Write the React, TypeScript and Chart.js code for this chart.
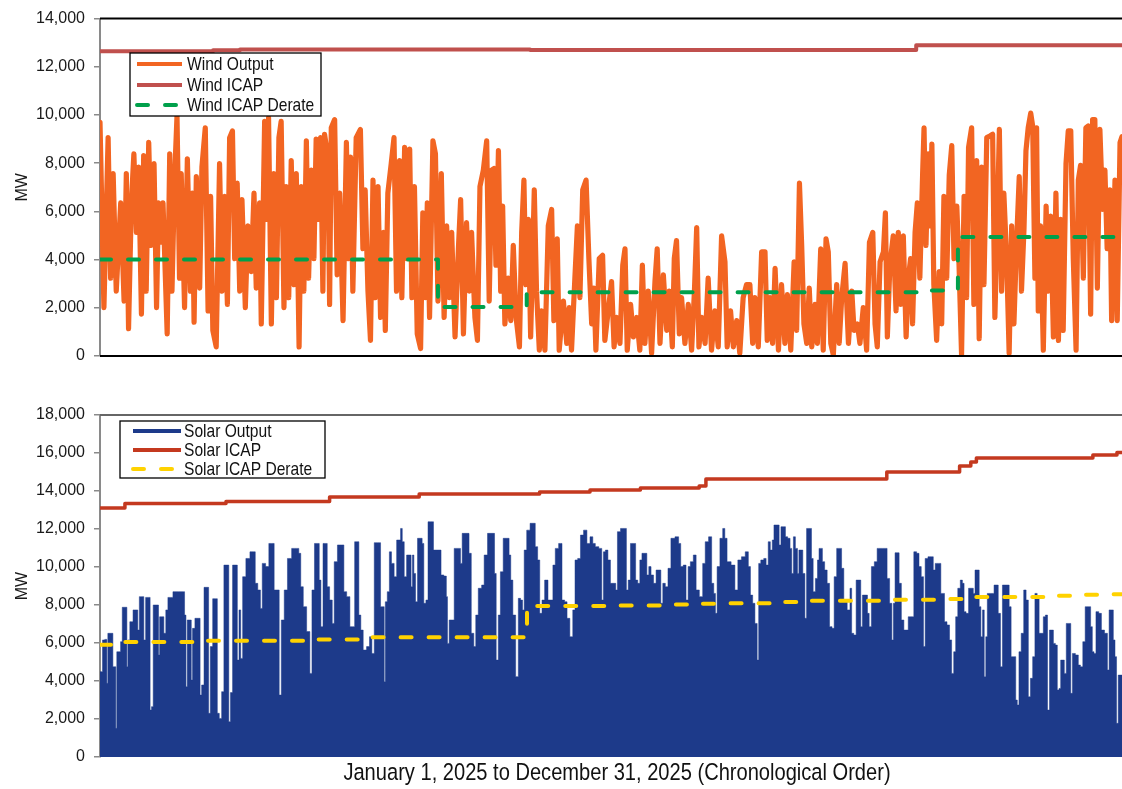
import React, { useEffect, useRef } from 'react';
import { Chart, registerables } from 'chart.js';

Chart.register(...registerables);

// ---------- Data (x = day of year 0..365, y = MW) ----------
const xTitle = 'January 1, 2025 to December 31, 2025 (Chronological Order)';
const windTicks = [0, 2000, 4000, 6000, 8000, 10000, 12000, 14000];
const solarTicks = [0, 2000, 4000, 6000, 8000, 10000, 12000, 14000, 16000, 18000];

const windOutput: [number, number][] = [
  [0,9700],[1.4,2010],[2.9,9060],[3.8,3230],[4.7,7570],[5.8,2690],[7.4,6350],[8.6,2280],[9.4,7570],[10.2,1130],
  [11.2,6350],[12.1,8390],[13.0,5130],[13.8,7840],[14.8,1740],[15.6,8320],[16.5,2690],[17.4,8860],[18.3,4590],[19.3,7980],
  [20.2,2010],[20.9,6350],[21.7,4720],[22.5,6350],[24.0,920],[24.9,8390],[25.7,2690],[26.7,7570],[27.5,9950],[28.4,3230],
  [29.0,7570],[30.2,2010],[31.2,8180],[32.3,2690],[33.0,6760],[33.6,1400],[34.4,7440],[35.6,2820],[36.4,7840],[37.6,9470],
  [38.6,1870],[39.5,6620],[40.3,1060],[41.5,380],[42.7,7980],[43.6,2690],[44.5,6620],[45.5,2140],[46.3,9060],[47.3,9340],
  [48.1,4040],[49.0,7170],[49.9,2690],[50.7,6490],[51.9,2010],[52.8,5400],[54.0,3500],[55.0,6760],[55.8,2820],[57.0,6350],
  [57.6,1330],[58.8,9740],[59.8,5670],[60.2,9880],[61.2,1330],[62.1,7570],[63.0,2420],[63.9,9060],[64.7,9740],[65.7,2010],
  [66.5,7030],[67.4,2420],[68.3,8110],[69.3,2960],[70.1,7570],[71.1,380],[71.9,7030],[72.8,2690],[73.7,8930],[74.5,3230],
  [75.5,7710],[76.4,4040],[77.2,9000],[78.1,5670],[78.8,9060],[79.6,2690],[80.2,9200],[81.4,8250],[82.0,2140],[82.6,9470],
  [83.8,9810],[84.7,3370],[85.6,6760],[86.8,1470],[88.0,8860],[88.8,4040],[89.5,8250],[90.3,2690],[91.5,9060],[93.0,9400],
  [93.9,4450],[94.7,6890],[95.7,2690],[96.6,650],[97.5,7300],[98.3,2420],[99.3,7030],[100.2,1600],[101.2,5130],[101.9,1060],
  [102.8,6760],[104.0,7980],[105.0,9060],[105.9,2690],[107.0,8110],[107.8,2420],[108.8,8660],[109.7,4040],[110.6,8590],[111.4,2420],
  [112.3,7030],[113.3,920],[114.5,310],[115.3,5940],[116.2,2420],[116.9,6350],[117.7,1600],[118.9,8930],[119.8,8390],[120.7,2280],
  [121.9,7570],[122.9,1600],[123.8,5400],[124.8,2420],[125.6,5130],[126.8,790],[128.0,4450],[128.8,6490],[129.8,920],[130.9,5540],
  [131.9,2690],[132.7,5130],[133.9,1600],[134.8,650],[135.7,7030],[136.9,7710],[138.1,8930],[139.0,2280],[139.9,7710],[140.7,7780],
  [141.4,3770],[142.3,8520],[143.1,2690],[143.8,6220],[144.6,1330],[145.8,3230],[146.7,1470],[147.6,4590],[148.6,1600],[149.8,380],
  [150.6,5130],[151.4,7300],[152.1,2960],[153.0,5670],[153.8,790],[155.1,6890],[155.9,2690],[156.9,240],[157.7,1870],[158.9,240],
  [160.1,5400],[161.3,6080],[162.1,1470],[163.3,4860],[164.0,240],[165.5,2280],[166.7,520],[167.6,2010],[168.4,240],[169.6,3230],
  [170.5,5400],[171.4,2420],[172.4,6890],[173.6,7300],[174.6,4040],[175.6,1330],[176.4,2820],[177.1,240],[178.3,4040],[179.5,4180],
  [180.3,650],[181.5,1870],[182.7,3090],[183.6,380],[184.5,1600],[185.7,520],[186.7,3770],[187.5,4450],[188.3,240],[189.5,2140],
  [190.5,790],[191.7,1600],[192.8,240],[193.7,3770],[194.6,520],[195.8,2690],[197.0,110],[198.2,3090],[199.0,4450],[200.0,520],
  [201.2,3370],[202.4,1060],[203.3,2690],[204.4,380],[205.1,4040],[205.9,4790],[206.9,920],[207.7,2420],[208.9,520],[210.1,2140],
  [211.3,240],[212.3,2690],[213.1,5330],[213.9,380],[214.9,1600],[216.1,520],[217.2,3230],[218.4,240],[219.6,1870],[220.8,380],
  [222.0,4990],[223.2,3910],[224.0,380],[225.2,1870],[226.2,380],[227.4,1470],[228.5,110],[229.7,2420],[230.9,2960],[232.1,2960],
  [233.1,520],[233.9,2420],[235.1,380],[236.3,4320],[237.5,4320],[238.3,650],[239.3,2420],[240.2,520],[241.1,3640],[242.3,240],
  [243.4,2960],[244.6,520],[245.5,2550],[246.7,240],[247.9,3910],[248.8,1060],[249.8,7170],[250.6,4590],[251.4,1330],[252.4,520],
  [253.3,2820],[254.2,380],[255.4,2140],[256.2,520],[257.4,4450],[258.3,240],[259.3,4860],[260.1,4320],[261.0,520],[261.9,40],
  [263.1,2960],[264.0,520],[264.9,2420],[266.1,3840],[267.3,520],[268.5,2690],[269.3,1060],[270.5,1330],[271.4,520],[272.6,2010],
  [273.8,240],[274.8,4720],[276.0,5130],[276.8,1330],[277.6,380],[278.6,3910],[279.8,4320],[280.5,5940],[281.2,790],[282.1,3770],
  [283.3,4990],[284.3,1870],[285.1,5130],[286.0,2140],[286.9,4990],[287.9,790],[288.7,3230],[289.5,4040],[290.2,1330],[291.1,5130],
  [291.9,6350],[292.8,3230],[293.8,7570],[294.3,9470],[295.0,4590],[295.8,8390],[296.4,5400],[297.1,8790],[297.8,2960],[298.8,650],
  [299.7,3500],[300.6,1330],[301.4,6620],[302.4,3230],[303.3,7500],[304.2,8730],[305.0,4040],[306.0,6220],[306.8,3770],[307.7,40],
  [308.6,6620],[309.5,2420],[310.2,8660],[311.3,9470],[312.1,2140],[313.1,8110],[314.0,720],[314.9,7840],[315.7,2960],[316.7,9060],
  [317.8,9130],[318.8,9200],[319.6,1600],[320.5,5670],[321.2,9400],[322.0,2690],[322.8,6760],[323.8,4040],[324.7,110],[325.6,5400],
  [326.4,1330],[327.4,4860],[328.3,7440],[329.1,2690],[330.0,5270],[330.7,8520],[331.5,9470],[332.4,10080],[333.1,9540],[333.9,3230],
  [334.5,9470],[335.1,1870],[335.9,5400],[336.9,240],[337.9,6220],[338.7,2690],[339.5,5810],[340.5,790],[341.4,6760],[342.3,650],
  [343.1,5670],[344.0,1060],[345.0,7980],[345.8,9340],[346.7,9340],[347.6,4040],[348.6,240],[349.4,7300],[350.2,7910],[351.2,3230],
  [352.1,9470],[352.9,9540],[353.8,1740],[354.5,9810],[355.3,9810],[356.2,2820],[357.1,9400],[358.1,6080],[358.9,7710],[359.7,4450],
  [360.7,6890],[361.3,1470],[362.5,7300],[363.3,1470],[364.3,8860],[365,9100]
];

const windIcap: [number, number][] = [[0,12650],[40.4,12690],[50,12720],[153.6,12700],[291.5,12890],[365,12890]];
const windDerate: [number, number][] = [[0,4000],[120.7,2030],[152.4,2650],[295.2,2720],[306.4,4940],[365,4940]];

const solarOutput: [number, number][] = [
  [0,4490],[0.7,4490],[1.1,6160],[2.3,6190],[2.6,3880],[3.0,6510],[4.3,6510],[4.9,4750],[5.5,4750],[5.8,1510],
  [6.2,5540],[7.1,5540],[7.6,6070],[8.3,7880],[9.4,7880],[9.8,4750],[10.1,6160],[11.2,7120],[12.4,7740],[13.3,7740],
  [13.7,6680],[14.4,8440],[15.4,8440],[15.9,6160],[16.7,8400],[17.7,8400],[18.1,2470],[18.7,2650],[19.3,8000],[20.7,8000],
  [21.1,5370],[21.5,7380],[22.5,7380],[23.1,6510],[23.9,7740],[24.6,8400],[25.7,8400],[26.4,8700],[29.9,8700],[30.5,7470],
  [30.9,3700],[31.4,7210],[32.4,7210],[32.8,4050],[33.3,6770],[34.5,7300],[35.6,7300],[35.9,3260],[36.7,3790],[37.6,8930],
  [38.6,8930],[39.0,2300],[39.8,5810],[40.7,8330],[41.7,8330],[42.1,2300],[43.1,2030],[43.8,3440],[44.7,10100],[45.7,10100],
  [46.3,1860],[46.9,3390],[47.8,10100],[48.8,10100],[49.3,5100],[50.0,7740],[50.5,5190],[51.4,9490],[52.8,10450],[54.3,10800],
  [55.2,10800],[55.7,9140],[57.0,8790],[57.6,7820],[58.3,10190],[60.0,10020],[60.6,11240],[61.8,11240],[62.6,8790],[63.6,8790],
  [64.4,3260],[65.1,7210],[66.5,8790],[67.4,10450],[69.5,10980],[70.7,10980],[71.3,10720],[72.1,8960],[73.1,7910],[74.5,6600],
  [75.4,4400],[76.0,8790],[77.2,11240],[78.1,11240],[78.5,9310],[79.3,6860],[80.0,11240],[80.9,11240],[81.4,8960],[82.6,8260],
  [83.3,7030],[84.0,10280],[85.6,11160],[86.8,11160],[87.4,8700],[88.8,8440],[89.7,6860],[90.7,6860],[91.2,11330],[92.1,11330],
  [92.8,7470],[93.5,6680],[94.5,5630],[95.9,5810],[96.6,6330],[97.6,5450],[98.3,11280],[99.9,11280],[100.5,7910],[101.3,7910],
  [101.7,3960],[102.1,8170],[103.1,8700],[103.6,10800],[104.6,10190],[105.5,9490],[106.4,11420],[107.1,11420],[107.6,12030],[108.3,11330],
  [109.0,9490],[110.0,10630],[110.8,10630],[111.4,8960],[111.8,10630],[112.4,9660],[113.0,8170],[113.8,11510],[114.8,11510],[115.3,11240],
  [116.0,8090],[116.8,8260],[117.5,12380],[118.7,12380],[119.5,10890],[121.6,10890],[122.0,9580],[123.6,9520],[123.8,8440],[124.4,5980],
  [125.0,7210],[125.9,7210],[127.1,10980],[128.6,10980],[128.9,10190],[129.8,11770],[131.5,11770],[132.1,10720],[133.1,6510],[133.9,5810],
  [134.5,7470],[135.7,8880],[136.9,9050],[137.5,10630],[139.3,11770],[140.7,11770],[141.1,9660],[141.9,5100],[142.6,7470],[143.4,9750],
  [144.6,11510],[145.8,11510],[146.4,10630],[147.0,9310],[147.9,7470],[149.0,4230],[149.8,8350],[150.6,8260],[151.2,7740],[151.8,10890],
  [153.0,11940],[154.2,12300],[155.0,12300],[155.9,11070],[156.7,10370],[157.4,7560],[158.3,8260],[159.3,9310],[159.7,9310],[160.3,8260],
  [161.4,8260],[162.1,10100],[163.1,10980],[164.5,11240],[165.5,8260],[166.4,8170],[167.2,7300],[168.4,6330],[169.3,7740],[170.0,10370],
  [171.2,10450],[172.0,11680],[173.4,11940],[174.4,11240],[175.6,11590],[176.4,11240],[177.4,11070],[178.9,10980],[179.5,8260],[180.1,10800],
  [180.9,10890],[181.9,10370],[182.7,9140],[183.9,9140],[184.5,8790],[185.1,11860],[186.7,12030],[187.7,12030],[188.3,8790],[189.0,9310],
  [189.9,11240],[191.0,11240],[191.6,9310],[192.5,9140],[193.1,10370],[194.0,10720],[195.0,10720],[195.6,9580],[196.4,10020],[197.2,9580],
  [198.2,9140],[199.0,9840],[200.0,9840],[200.6,8090],[201.4,9140],[202.4,8960],[203.3,9930],[204.5,11510],[206.2,11590],[207.1,11240],
  [207.7,10020],[208.9,10100],[209.7,8260],[210.4,10020],[211.3,10280],[212.5,10630],[213.3,8790],[214.8,8440],[215.7,10190],[216.6,11330],
  [218.1,11590],[218.8,9140],[219.6,8610],[220.0,7560],[220.8,10020],[222.0,11510],[222.8,12030],[223.5,11510],[224.4,10280],[226.4,10100],
  [227.1,8790],[228.5,10370],[229.7,10540],[231.2,10800],[231.9,10020],[232.7,8520],[233.5,8090],[234.3,7030],[235.1,5100],[235.4,10190],
  [236.6,10370],[237.5,10450],[238.3,10100],[239.0,11330],[239.8,10890],[240.4,11420],[241.0,12210],[242.2,12210],[242.9,11160],[243.5,12120],
  [244.6,12120],[245.0,11590],[246.2,11510],[246.7,10980],[247.4,9660],[247.9,11590],[248.8,10980],[249.4,9660],[249.8,10890],[250.6,10890],
  [251.4,9660],[252.1,7300],[252.6,12030],[253.8,12030],[254.4,10450],[255.0,8700],[256.0,9400],[256.5,10370],[257.1,10980],[257.7,10980],
  [258.3,10280],[259.3,9840],[260.1,9140],[261.0,6860],[261.9,6770],[262.5,9490],[263.7,10980],[264.5,10980],[265.2,9930],[266.1,8260],
  [267.6,7740],[268.1,8880],[268.8,6510],[269.6,6420],[270.5,9310],[271.4,9310],[272.0,6860],[272.6,8520],[273.8,8520],[274.4,7560],
  [275.0,6860],[276.0,10020],[277.1,10280],[278.0,10980],[280.7,10980],[281.5,9400],[282.5,8090],[283.1,6160],[283.6,8090],[284.3,10750],
  [285.1,10750],[285.7,9140],[286.7,7210],[287.5,6680],[288.3,6680],[289.0,7380],[290.2,7380],[291.1,10800],[292.2,10720],[292.8,10020],
  [293.8,9490],[294.4,5810],[295.0,10450],[296.4,10540],[297.4,10540],[297.8,9840],[298.8,10190],[300.0,10190],[300.6,8610],[301.2,8610],
  [302.0,7120],[303.0,6950],[303.8,6160],[304.5,4400],[305.3,5540],[305.9,7380],[306.8,8880],[307.7,9310],[308.3,9140],[308.9,7650],
  [309.7,7560],[310.7,8880],[311.6,8880],[312.2,8610],[312.8,9840],[313.7,9840],[314.3,7910],[314.9,6330],[315.5,7740],[316.1,4230],
  [316.6,6330],[317.2,8610],[319.0,8610],[319.6,9050],[320.4,9050],[321.2,7560],[322.0,4750],[322.6,9050],[324.4,9050],[325.0,7910],
  [325.8,5280],[326.8,5280],[327.3,3000],[327.9,2740],[328.5,5540],[329.5,6510],[330.3,8790],[331.2,8260],[331.9,3170],[332.7,4140],
  [333.5,5280],[334.3,8610],[335.1,8350],[335.7,6510],[336.6,6510],[337.2,7380],[338.1,7470],[338.7,2470],[339.5,6680],[340.2,6680],
  [340.8,5980],[341.6,5890],[342.2,3530],[342.8,3610],[343.4,5100],[344.0,5100],[344.8,4400],[345.4,7030],[346.4,7030],[347.0,3350],
  [347.6,5450],[349.1,5370],[349.7,4840],[350.6,4750],[351.4,6070],[352.3,7910],[353.5,7910],[354.1,6860],[354.7,5540],[355.3,5450],
  [356.1,7650],[357.3,7560],[358.0,6680],[359.5,6510],[360.1,4580],[360.7,7740],[361.6,7740],[362.2,6160],[362.8,5280],[363.3,1770],
  [364.0,4310],[365,4310]
];

const solarIcap: [number, number][] = [
  [0,13100],[8.9,13340],[45,13450],[82,13680],[114,13840],[157,13950],[175,14050],[193,14160],[214,14260],[216.4,14630],
  [281,15000],[307,15320],[311,15530],[313,15740],[354.6,15900],[363.2,16020],[365,16020]
];
const solarDerate: [number, number][] = [
  [0,5910],[6.8,6050],[35.7,6120],[75.7,6190],[94.6,6300],[152.5,7950],[183.6,7980],[202.9,8020],[212.9,8070],[222.1,8090],
  [242.9,8160],[251.8,8230],[281.4,8280],[301.4,8310],[310.7,8420],[339.3,8490],[350,8540],[357.1,8560],[365,8560]
];

// ---------- Styling ----------
const SANS = "'Liberation Sans', Arial, Helvetica, sans-serif";
const ORANGE = '#F26522';
const WIND_ICAP = '#C0504D';
const GREEN = '#00A04B';
const BLUE = '#1D3A8A';
const SOLAR_ICAP = '#C4391F';
const YELLOW = '#FFD200';
const NARROW_SCALE = 0.82;

const toPts = (arr: [number, number][]) => arr.map(([x, y]) => ({ x, y }));

function narrowText(ctx: any, text: string, x: number, y: number, size: number, align: string) {
  ctx.save();
  ctx.font = `${size}px ${SANS}`;
  ctx.textBaseline = 'middle';
  ctx.textAlign = align;
  ctx.translate(x, y);
  ctx.scale(NARROW_SCALE, 1);
  ctx.fillText(text, 0, 0);
  ctx.restore();
}

const framePlugin = {
  id: 'frame',
  afterDatasetsDraw(chart: any, _args: any, opts: any) {
    const { ctx, chartArea } = chart;
    const lines = (opts && opts.lines) || [];
    ctx.save();
    for (const l of lines) {
      const y = l.edge === 'top' ? chartArea.top : chartArea.bottom;
      ctx.strokeStyle = l.color;
      ctx.lineWidth = l.width;
      ctx.beginPath();
      ctx.moveTo(chartArea.left, y);
      ctx.lineTo(chartArea.right, y);
      ctx.stroke();
    }
    ctx.restore();
  },
};

const boxLegendPlugin = {
  id: 'boxLegend',
  afterDraw(chart: any, _args: any, opts: any) {
    if (!opts || !opts.box) return;
    const { ctx } = chart;
    const [bx, by, bw, bh] = opts.box;
    ctx.save();
    ctx.fillStyle = '#ffffff';
    ctx.fillRect(bx, by, bw, bh);
    ctx.strokeStyle = '#000000';
    ctx.lineWidth = 1.3;
    ctx.strokeRect(bx, by, bw, bh);
    const order: number[] = opts.order;
    order.forEach((dsIndex: number, i: number) => {
      const ds = chart.data.datasets[dsIndex];
      const y = opts.rows[i];
      ctx.strokeStyle = ds.borderColor;
      ctx.lineWidth = 4;
      ctx.lineCap = ds.borderDash ? 'round' : 'butt';
      ctx.setLineDash(ds.borderDash || []);
      ctx.beginPath();
      ctx.moveTo(opts.line[0], y);
      ctx.lineTo(opts.line[1], y);
      ctx.stroke();
      ctx.setLineDash([]);
      ctx.fillStyle = '#111111';
      narrowText(ctx, ds.label, opts.textX, y + 1, opts.fontSize, 'left');
    });
    ctx.restore();
  },
};

const axisTitlePlugin = {
  id: 'narrowAxisTitle',
  afterDraw(chart: any, _args: any, opts: any) {
    if (!opts || !opts.text) return;
    const { ctx, chartArea } = chart;
    ctx.save();
    ctx.fillStyle = '#111111';
    narrowText(ctx, opts.text, (chartArea.left + chartArea.right) / 2 + opts.shift, chartArea.bottom + opts.gap, opts.fontSize, 'center');
    ctx.restore();
  },
};

function yScale(ticks: number[], max: number) {
  return {
    type: 'linear',
    min: 0,
    max,
    afterFit: (s: any) => { s.width = 100; },
    afterBuildTicks: (s: any) => { s.ticks = ticks.map((v) => ({ value: v })); },
    ticks: {
      font: { family: SANS, size: 16 },
      color: '#1a1a1a',
      padding: 9,
      callback: (v: any) => Number(v).toLocaleString('en-US'),
    },
    grid: { display: true, drawOnChartArea: false, drawTicks: true, tickLength: 6, color: '#8a8a8a', lineWidth: 1.5 },
    border: { display: true, color: '#8a8a8a', width: 2 },
    title: { display: true, text: 'MW', font: { family: SANS, size: 16 }, color: '#1a1a1a', padding: { top: 13, bottom: 0 } },
  };
}

const lineBase = { pointRadius: 0, pointHoverRadius: 0, tension: 0, borderJoinStyle: 'round', borderCapStyle: 'round' };

function topConfig(): any {
  return {
    type: 'line',
    data: {
      datasets: [
        { ...lineBase, label: 'Wind Output', data: toPts(windOutput), borderColor: ORANGE, borderWidth: 5.2, order: 3 },
        { ...lineBase, label: 'Wind ICAP', data: toPts(windIcap), borderColor: WIND_ICAP, borderWidth: 4, stepped: 'before', order: 2 },
        { ...lineBase, label: 'Wind ICAP Derate', data: toPts(windDerate), borderColor: GREEN, borderWidth: 4, borderDash: [11, 17], stepped: 'before', order: 1 },
      ],
    },
    options: {
      responsive: false,
      animation: false,
      events: [],
      parsing: false,
      layout: { padding: { left: 0, right: 0, top: 12, bottom: 34 } },
      scales: {
        x: { type: 'linear', min: 0, max: 365, display: false },
        y: yScale(windTicks, 14000),
      },
      plugins: {
        legend: { display: false },
        tooltip: { enabled: false },
        frame: { lines: [{ edge: 'top', color: '#000', width: 2 }, { edge: 'bottom', color: '#000', width: 2 }] },
        boxLegend: { box: [130, 53, 191, 63], rows: [64, 85, 105], line: [137, 182], textX: 187, fontSize: 19, order: [0, 1, 2] },
      },
    },
    plugins: [framePlugin, boxLegendPlugin],
  };
}

function bottomConfig(): any {
  return {
    type: 'line',
    data: {
      datasets: [
        { ...lineBase, label: 'Solar Output', data: toPts(solarOutput), borderColor: BLUE, backgroundColor: BLUE, borderWidth: 0.5, fill: 'origin', stepped: 'middle', order: 3 },
        { ...lineBase, label: 'Solar ICAP', data: toPts(solarIcap), borderColor: SOLAR_ICAP, borderWidth: 3.5, stepped: 'before', order: 2 },
        { ...lineBase, label: 'Solar ICAP Derate', data: toPts(solarDerate), borderColor: YELLOW, borderWidth: 4, borderDash: [11, 17], stepped: 'before', order: 1 },
      ],
    },
    options: {
      responsive: false,
      animation: false,
      events: [],
      parsing: false,
      layout: { padding: { left: 0, right: 0, top: 25, bottom: 0 } },
      scales: {
        x: {
          type: 'linear', min: 0, max: 365, display: true,
          afterFit: (s: any) => { s.height = 32; },
          ticks: { display: false },
          grid: { display: false },
          border: { display: false },
          title: { display: false, text: xTitle },
        },
        y: yScale(solarTicks, 18000),
      },
      plugins: {
        legend: { display: false },
        tooltip: { enabled: false },
        frame: { lines: [{ edge: 'top', color: '#666', width: 2 }] },
        boxLegend: { box: [120, 31, 205, 57], rows: [41, 60, 79], line: [133, 181], textX: 184, fontSize: 19, order: [0, 1, 2] },
        narrowAxisTitle: { text: xTitle, fontSize: 24.5, shift: 6, gap: 16 },
      },
    },
    plugins: [framePlugin, boxLegendPlugin, axisTitlePlugin],
  };
}

export default function App() {
  const topRef = useRef<HTMLCanvasElement>(null);
  const botRef = useRef<HTMLCanvasElement>(null);
  useEffect(() => {
    const c1 = new Chart(topRef.current as HTMLCanvasElement, topConfig());
    const c2 = new Chart(botRef.current as HTMLCanvasElement, bottomConfig());
    return () => { c1.destroy(); c2.destroy(); };
  }, []);
  return (
    <div style={{ position: 'absolute', left: 0, top: 0, width: 1122, height: 789, overflow: 'hidden', background: '#fff' }}>
      <canvas ref={topRef} width={1122} height={390} style={{ position: 'absolute', left: 0, top: 0, display: 'block' }} />
      <canvas ref={botRef} width={1122} height={399} style={{ position: 'absolute', left: 0, top: 390, display: 'block' }} />
    </div>
  );
}
